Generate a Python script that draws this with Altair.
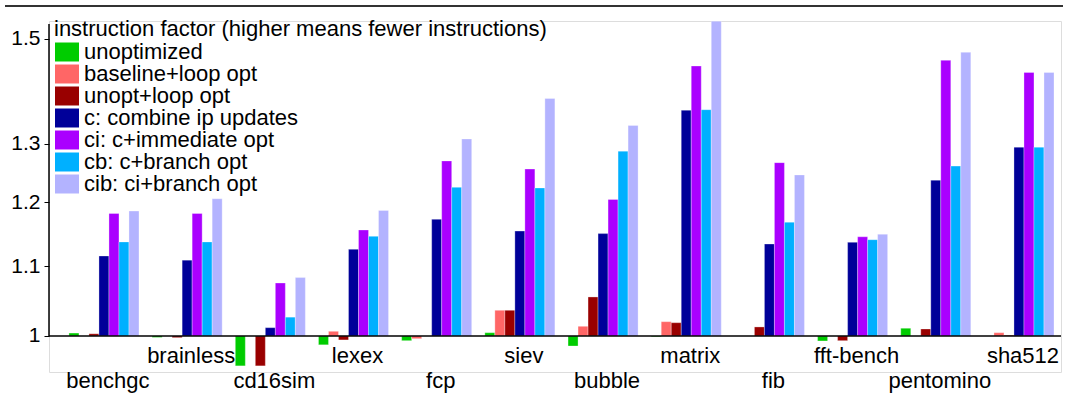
import altair as alt
import pandas as pd

benchmarks = ["benchgc", "brainless", "cd16sim", "lexex", "fcp", "siev",
              "bubble", "matrix", "fib", "fft-bench", "pentomino", "sha512"]
tiers = ["low", "high", "low", "high", "low", "high",
         "low", "high", "low", "high", "low", "high"]

series = ["unoptimized", "baseline+loop opt", "unopt+loop opt",
          "c: combine ip updates", "ci: c+immediate opt",
          "cb: c+branch opt", "cib: ci+branch opt"]
colors = ["#00cc00", "#ff6666", "#990000", "#000099", "#aa00ff", "#00b0ff", "#b3b3ff"]

unoptimized = [1.004, 0.998, 0.960, 0.988, 0.9936, 1.0045, 0.9864, 0.999, 1.0, 0.9932, 1.0106, 1.0]
baseline_loop = [1.0, 1.0, 1.0, 1.0064, 0.9963, 1.0357, 1.0133, 1.0197, 1.0, 1.0, 1.0, 1.0045]
unopt_loop = [1.003, 0.9977, 0.960, 0.9946, 1.0, 1.0357, 1.0547, 1.0183, 1.0124, 0.9936, 1.0096, 1.001]
c_vals = [1.1154, 1.109, 1.0114, 1.1256, 1.1727, 1.154, 1.15, 1.361, 1.1338, 1.1364, 1.237, 1.294]
ci_vals = [1.182, 1.182, 1.075, 1.1557, 1.270, 1.256, 1.205, 1.4457, 1.267, 1.145, 1.457, 1.433]
cb_vals = [1.137, 1.137, 1.026, 1.1457, 1.225, 1.224, 1.287, 1.362, 1.168, 1.1405, 1.261, 1.294]
cib_vals = [1.186, 1.206, 1.083, 1.187, 1.3086, 1.383, 1.333, 1.537, 1.2459, 1.149, 1.473, 1.433]

y_ticks = [1, 1.1, 1.2, 1.3, 1.5]

all_vals = [unoptimized, baseline_loop, unopt_loop, c_vals, ci_vals, cb_vals, cib_vals]
rows = []
for s, vals in zip(series, all_vals):
    for b, v in zip(benchmarks, vals):
        rows.append({"bench": b, "series": s, "value": v})
df = pd.DataFrame(rows)
lab = pd.DataFrame({"bench": benchmarks, "tier": tiers})

FONT = "Liberation Sans"
W, H = 1012, 351

xscale = alt.Scale(domain=benchmarks, paddingInner=0.158, paddingOuter=0.162, align=0.74)
yscale = alt.Scale(type="log", domain=[0.952, 1.5373], nice=False)

bars = alt.Chart(df).mark_bar(stroke="white", strokeWidth=1, strokeOpacity=0.3).encode(
    x=alt.X("bench:N", sort=benchmarks, scale=xscale, axis=None),
    xOffset=alt.XOffset("series:N", sort=series,
                        scale=alt.Scale(domain=series, paddingInner=0, paddingOuter=0)),
    y=alt.Y("value:Q", scale=yscale,
            axis=alt.Axis(values=y_ticks, format="~g", title=None, grid=False,
                          domain=False, tickSize=5, tickColor="black",
                          labelFont=FONT, labelFontSize=21, labelColor="black",
                          labelPadding=4)),
    y2=alt.datum(1),
    color=alt.Color("series:N", sort=series,
                    scale=alt.Scale(domain=series, range=colors),
                    legend=alt.Legend(
                        title="instruction factor (higher means fewer instructions)",
                        orient="none", legendX=5, legendY=-2, padding=0,
                        titleFont=FONT, titleFontSize=22, titleFontWeight="normal",
                        titleColor="black", titlePadding=0, titleLimit=800,
                        labelFont=FONT, labelFontSize=22, labelColor="black",
                        labelLimit=600, labelOffset=8, rowPadding=0,
                        symbolType="M-1,-0.95L1.4,-0.95L1.4,0.95L-1,0.95Z",
                        symbolSize=400, symbolStrokeWidth=0, symbolOpacity=1)),
)

base_lab = alt.Chart(lab)
lab_low = base_lab.transform_filter(alt.datum.tier == "low").mark_text(
    font=FONT, fontSize=22, color="black", baseline="alphabetic", dx=4
).encode(x=alt.X("bench:N", sort=benchmarks, scale=xscale, axis=None),
         y=alt.value(367), text="bench:N")
lab_high = base_lab.transform_filter(alt.datum.tier == "high").mark_text(
    font=FONT, fontSize=22, color="black", baseline="alphabetic", dx=4
).encode(x=alt.X("bench:N", sort=benchmarks, scale=xscale, axis=None),
         y=alt.value(342), text="bench:N")

one = pd.DataFrame({"a": [0]})
yaxis_line = alt.Chart(one).mark_rule(color="black", strokeWidth=1.5).encode(
    x=alt.value(0), y=alt.datum(1), y2=alt.datum(1.531))
xaxis_line = alt.Chart(one).mark_rule(color="black", strokeWidth=1.5).encode(
    x=alt.value(0), x2=alt.value(W), y=alt.datum(1))
top_line = alt.Chart(one).mark_rule(color="#333333", strokeWidth=2).encode(
    x=alt.value(-44), x2=alt.value(1014), y=alt.value(-15))

chart = alt.layer(bars, xaxis_line, yaxis_line, top_line, lab_low, lab_high).properties(
    width=W, height=H,
    padding={"left": 49, "top": 21, "right": 4, "bottom": 29},
    autosize=alt.AutoSizeParams(type="none"),
).configure_view(stroke=None).configure(background="white")

chart.save("out.html", embed_options={"renderer": "svg", "actions": False})
